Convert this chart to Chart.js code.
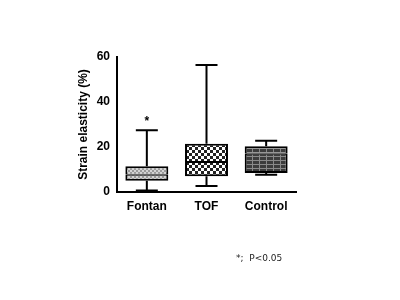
<!DOCTYPE html>
<html><head><meta charset="utf-8">
<script src="https://cdn.jsdelivr.net/npm/chart.js@4.4.0/dist/chart.umd.min.js"></script>
<style>html,body{margin:0;padding:0;background:#fff;}canvas{display:block;}</style>
</head><body>
<canvas id="c" width="400" height="300"></canvas>
<script>
const categories = ["Fontan", "TOF", "Control"];
const whiskerLow = [0.7, 2.7, 7.7];
const q1 = [5.0, 7.0, 8.5];
const median = [7.7, 13.3, 17.0];
const q3 = [11.4, 21.5, 20.3];
const whiskerHigh = [27.5, 56.5, 22.8];
const significance = ["*", "", ""];
const significanceValue = [32, null, null];
const yTicks = [0, 20, 40, 60];
const footnote = "*;  P<0.05";

function makePattern(kind){
  const t = document.createElement('canvas');
  const x = t.getContext('2d');
  if(kind===0){
    t.width=4;t.height=4;
    x.fillStyle='#9a9a9a';x.fillRect(0,0,4,4);
    x.fillStyle='#d4d4d4';x.fillRect(0,0,2,2);x.fillRect(2,2,2,2);
  } else if(kind===1){
    t.width=6;t.height=6;
    x.fillStyle='#ffffff';x.fillRect(0,0,6,6);
    x.fillStyle='#222222';x.fillRect(0,0,3,3);x.fillRect(3,3,3,3);
  } else {
    t.width=7;t.height=4;
    x.fillStyle='#3c3c3c';x.fillRect(0,0,7,4);
    x.fillStyle='#8a8a8a';x.fillRect(0,0,7,1);x.fillRect(0,0,1,4);
  }
  return document.getElementById('c').getContext('2d').createPattern(t,'repeat');
}
const patterns = [makePattern(0), makePattern(1), makePattern(2)];

const lower = categories.map((c,i)=>[q1[i], median[i]]);
const upper = categories.map((c,i)=>[median[i], q3[i]]);

const whiskerPlugin = {
  id:'whiskers',
  beforeDatasetsDraw(chart){
    const ctx = chart.ctx, xs = chart.scales.x, ys = chart.scales.y;
    ctx.save();
    ctx.strokeStyle='#000';ctx.lineWidth=2;
    categories.forEach((c,i)=>{
      const cx = xs.getPixelForValue(i);
      const half = 11;
      const yl = ys.getPixelForValue(whiskerLow[i]);
      const yh = ys.getPixelForValue(whiskerHigh[i]);
      const yq1 = ys.getPixelForValue(q1[i]);
      const yq3 = ys.getPixelForValue(q3[i]);
      ctx.beginPath();
      ctx.moveTo(cx,yh);ctx.lineTo(cx,yq3);
      ctx.moveTo(cx,yq1);ctx.lineTo(cx,yl);
      ctx.moveTo(cx-half,yh);ctx.lineTo(cx+half,yh);
      ctx.moveTo(cx-half,yl);ctx.lineTo(cx+half,yl);
      ctx.stroke();
    });
    ctx.restore();
  },
  afterDatasetsDraw(chart){
    const ctx = chart.ctx, xs = chart.scales.x, ys = chart.scales.y;
    ctx.save();
    ctx.fillStyle='#000';
    ctx.font='bold 12px "Liberation Sans", Arial, sans-serif';
    ctx.textAlign='center';ctx.textBaseline='middle';
    categories.forEach((c,i)=>{
      if(significance[i]){
        ctx.fillText(significance[i], xs.getPixelForValue(i), ys.getPixelForValue(significanceValue[i])+2);
      }
    });
    ctx.font='9px "DejaVu Sans", sans-serif';
    ctx.textAlign='left';
    ctx.fillStyle='#222';
    ctx.fillText(footnote, 236, 259);
    ctx.restore();
  }
};

const bw = {left:2, right:2, top:1, bottom:1};
const common = {backgroundColor:patterns, borderColor:'#000', borderWidth:bw, borderSkipped:false, grouped:false, barPercentage:0.72, categoryPercentage:1};

new Chart(document.getElementById('c'), {
  type:'bar',
  data:{
    labels:categories,
    datasets:[
      Object.assign({data:lower}, common, {borderWidth:{left:2,right:2,top:1,bottom:2}}),
      Object.assign({data:upper}, common, {borderWidth:{left:2,right:2,top:2,bottom:1}})
    ]
  },
  options:{
    responsive:false, animation:false,
    layout:{padding:{left:76, top:57, right:104, bottom:83}},
    plugins:{legend:{display:false}, tooltip:{enabled:false}},
    scales:{
      x:{
        offset:true,
        grid:{display:false, drawTicks:true, tickLength:5, tickColor:'#000', tickWidth:2},
        border:{display:true, color:'#000', width:2},
        ticks:{color:'#000', font:{family:'"Liberation Sans", Arial, sans-serif', weight:'bold', size:12}, padding:2},
        afterFit(s){ s.height = 25; }
      },
      y:{
        min:0, max:60,
        afterBuildTicks(s){ s.ticks = yTicks.map(v=>({value:v})); },
        grid:{display:false, drawTicks:true, tickLength:5, tickColor:'#000', tickWidth:2},
        border:{display:true, color:'#000', width:2},
        ticks:{color:'#000', font:{family:'"Liberation Sans", Arial, sans-serif', weight:'bold', size:12}, padding:2},
        title:{display:true, text:'Strain elasticity (%)', color:'#000', font:{family:'"Liberation Sans", Arial, sans-serif', weight:'bold', size:12}, padding:{top:0,bottom:2}},
        afterFit(s){ s.width = 41; }
      }
    }
  },
  plugins:[whiskerPlugin]
});
</script>
</body></html>
